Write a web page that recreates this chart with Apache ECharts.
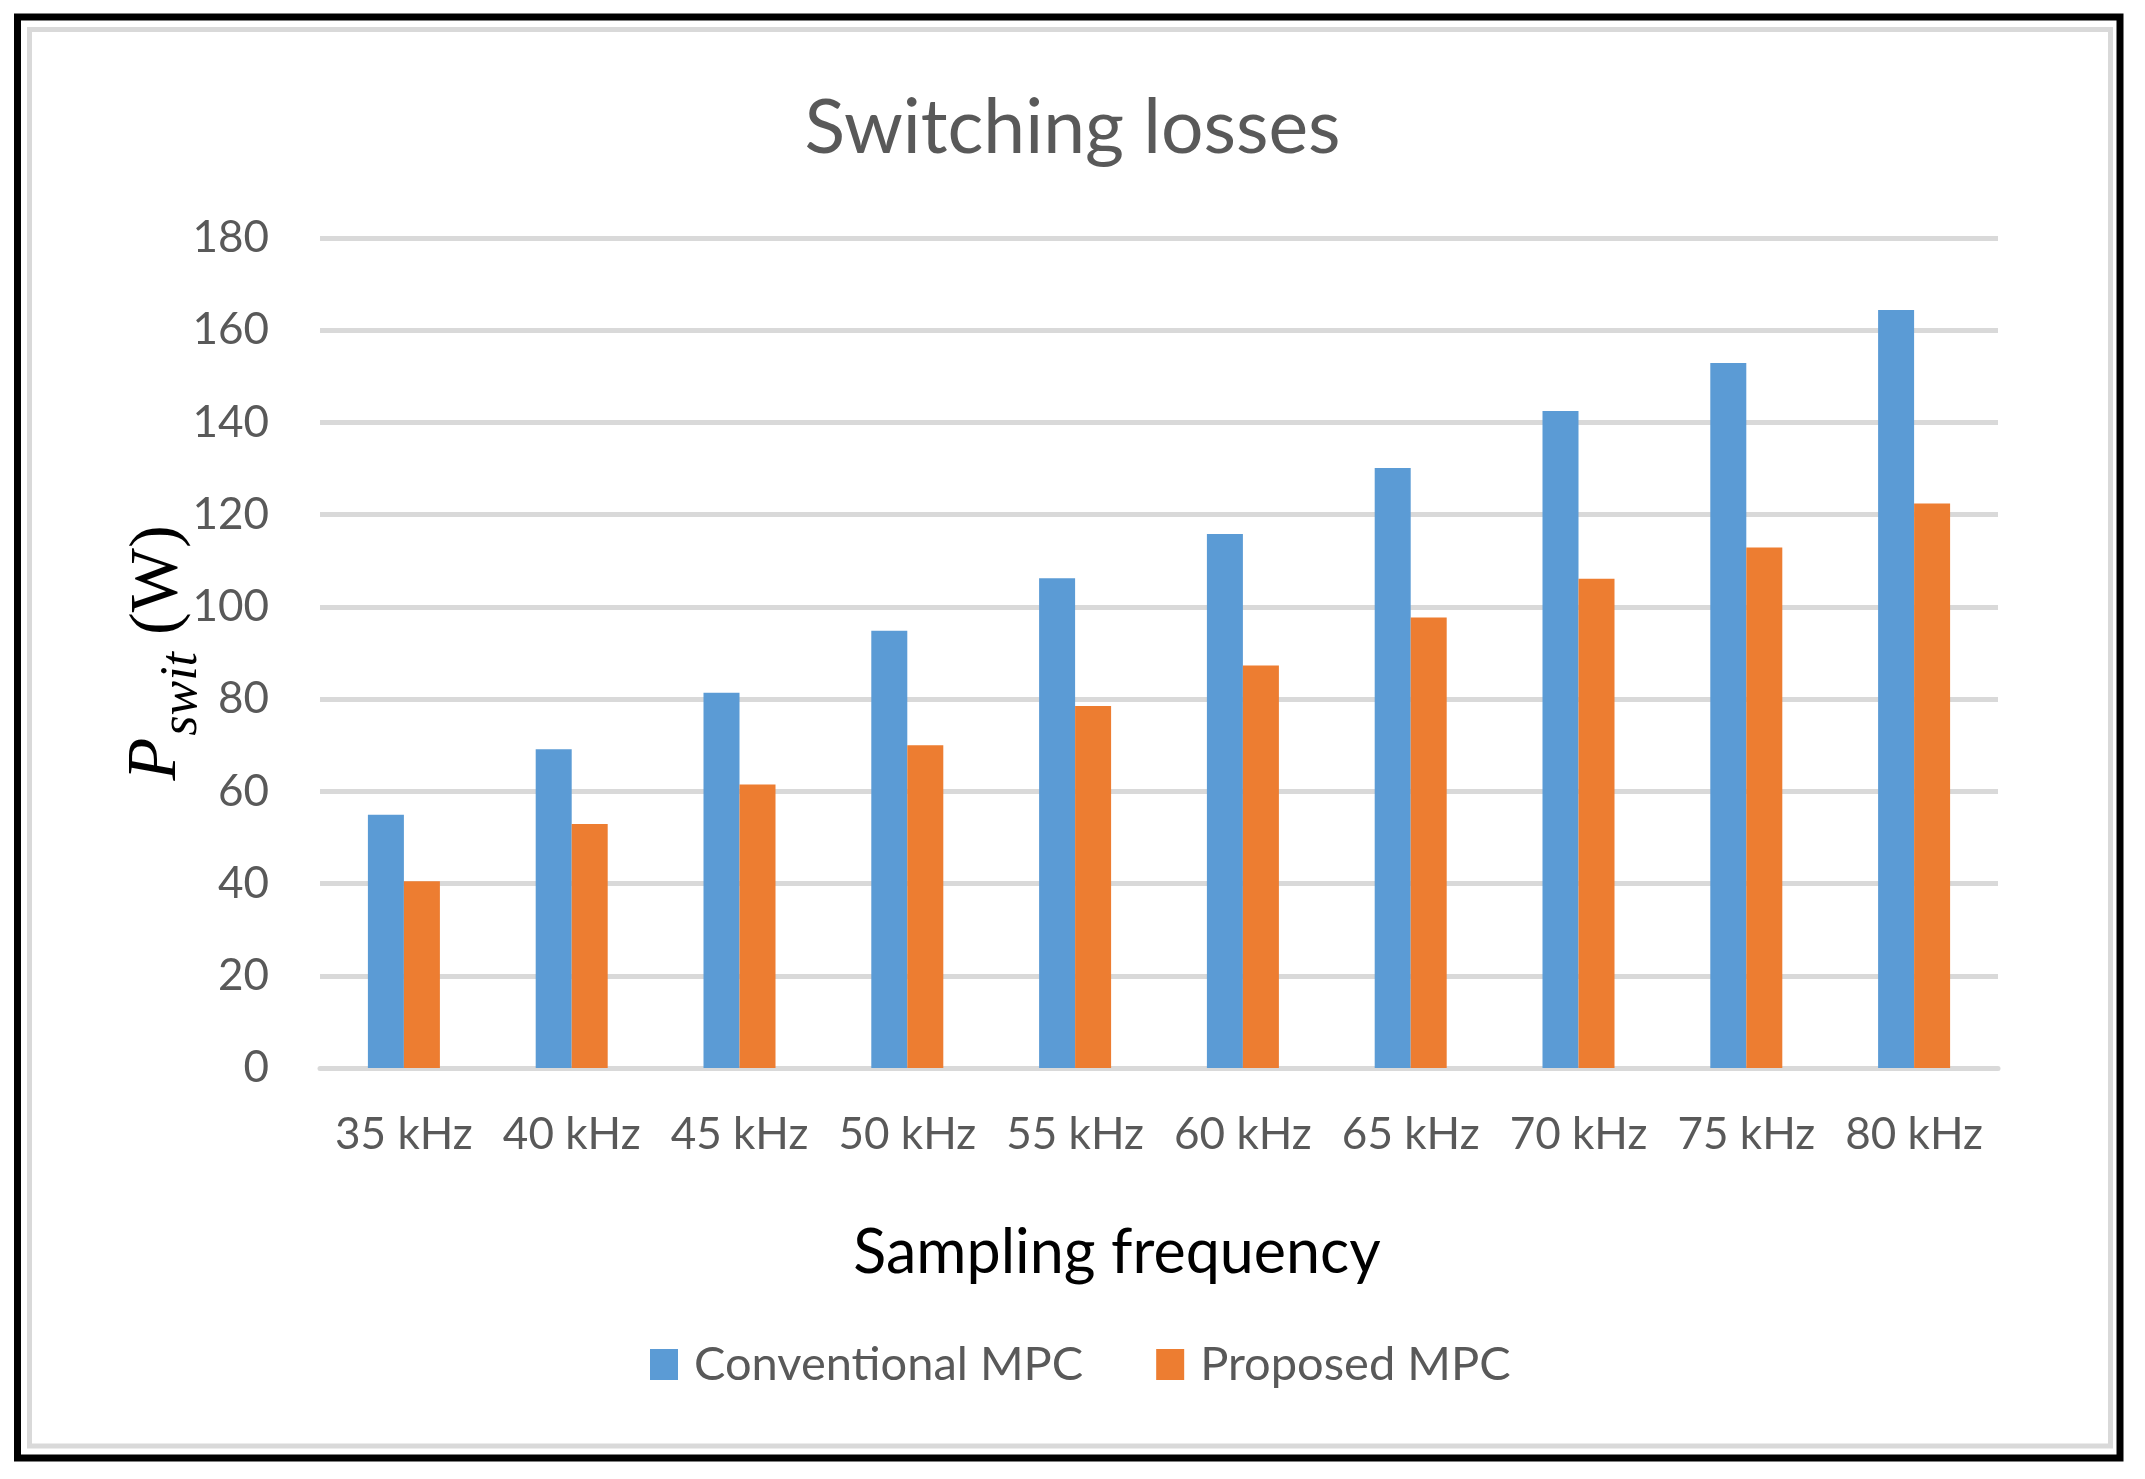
<!DOCTYPE html>
<html>
<head>
<meta charset="utf-8">
<script src="https://cdn.jsdelivr.net/npm/echarts@6/dist/echarts.min.js"></script>
<style>
html,body{margin:0;padding:0;background:#fff;}
#chart{width:2145px;height:1479px;}
</style>
</head>
<body>
<div id="chart"></div>
<script>
const categories = ['35 kHz','40 kHz','45 kHz','50 kHz','55 kHz','60 kHz','65 kHz','70 kHz','75 kHz','80 kHz'];
const conventionalMPC = [54.9, 69.1, 81.4, 94.8, 106.2, 115.8, 130.1, 142.5, 152.9, 164.4];
const proposedMPC = [40.5, 52.9, 61.5, 70.0, 78.5, 87.3, 97.7, 106.1, 112.9, 122.4];
const seriesNames = ['Conventional MPC', 'Proposed MPC'];
const titleText = 'Switching losses';
const xAxisTitle = 'Sampling frequency';

const chart = echarts.init(document.getElementById('chart'), null, {renderer:'canvas'});
const grey = '#d9d9d9';
const txt = '#595959';
const font = 'Lato';

chart.setOption({
  animation: false,
  backgroundColor: '#ffffff',
  title: {
    text: titleText,
    left: 'center',
    top: 91,
    padding: 0,
    textStyle: {fontFamily: font, fontSize: 75, fontWeight: 'normal', color: txt}
  },
  legend: {
    data: seriesNames,
    left: 650,
    top: 1341,
    padding: 0,
    icon: 'rect',
    itemWidth: 28,
    itemHeight: 31,
    itemGap: 73,
    textStyle: {fontFamily: font, fontSize: 47, color: txt, padding: [0,0,0,11]}
  },
  grid: {left: 320, right: 147, top: 238, bottom: 411, containLabel: false},
  xAxis: {
    type: 'category',
    data: categories,
    axisLine: {show: true, lineStyle: {color: grey, width: 5}},
    axisTick: {show: false},
    axisLabel: {fontFamily: font, fontSize: 44, color: txt, margin: 45, interval: 0},
    name: xAxisTitle,
    nameLocation: 'middle',
    nameGap: 155,
    nameMoveOverlap: false,
    nameTextStyle: {fontFamily: font, fontSize: 61, color: '#000000', padding: [0, 84, 0, 0]}
  },
  yAxis: {
    type: 'value',
    min: 0,
    max: 180,
    interval: 20,
    axisLine: {show: false},
    axisTick: {show: false},
    splitLine: {show: true, lineStyle: {color: grey, width: 5}},
    axisLabel: {fontFamily: font, fontSize: 44, color: txt, margin: 51},
    name: '{p|P}{s|swit}{w| (W)}',
    nameLocation: 'middle',
    nameRotate: 90,
    nameGap: 112,
    nameMoveOverlap: false,
    nameTextStyle: {
      rich: {
        p: {fontFamily: 'Liberation Serif', fontStyle: 'italic', fontSize: 70, color: '#000', verticalAlign: 'bottom', padding: [0,2,16,0]},
        s: {fontFamily: 'Liberation Serif', fontStyle: 'italic', fontSize: 52, color: '#000', verticalAlign: 'bottom', padding: [0,0,0,0]},
        w: {fontFamily: 'Liberation Serif', fontSize: 68, color: '#000', verticalAlign: 'bottom', padding: [0,0,16,0]}
      }
    }
  },
  series: [
    {name: seriesNames[0], type: 'bar', data: conventionalMPC, barWidth: 36, barGap: '0%', itemStyle: {color: '#5b9bd5'}},
    {name: seriesNames[1], type: 'bar', data: proposedMPC, barWidth: 36, barGap: '0%', itemStyle: {color: '#ed7d31'}}
  ],
  graphic: [
    {type: 'rect', shape: {x: 17.5, y: 17, width: 2102.5, height: 1441}, style: {fill: 'none', stroke: '#000', lineWidth: 7}, silent: true},
    {type: 'rect', shape: {x: 29.5, y: 29.5, width: 2081, height: 1416.5}, style: {fill: 'none', stroke: grey, lineWidth: 5}, silent: true}
  ]
});
</script>
</body>
</html>
